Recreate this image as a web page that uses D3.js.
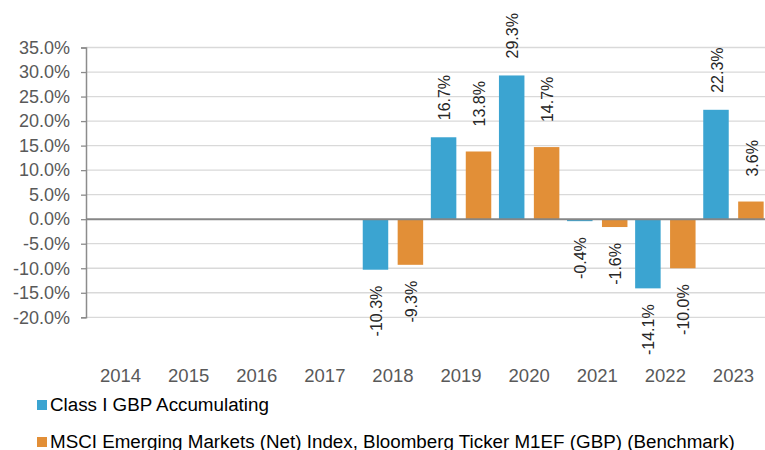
<!DOCTYPE html>
<html>
<head>
<meta charset="utf-8">
<script src="https://cdn.jsdelivr.net/npm/d3@7"></script>
<style>
  body { margin: 0; background: #fff; }
  svg { display: block; font-family: "Liberation Sans", Arial, sans-serif; }
</style>
</head>
<body>
<div id="chart"></div>
<script>
// Chart data
var years = ["2014", "2015", "2016", "2017", "2018", "2019", "2020", "2021", "2022", "2023"];
var fundValues = [null, null, null, null, -10.3, 16.7, 29.3, -0.4, -14.1, 22.3];
var benchValues = [null, null, null, null, -9.3, 13.8, 14.7, -1.6, -10.0, 3.6];
var yTicks = [-20, -15, -10, -5, 0, 5, 10, 15, 20, 25, 30, 35];
var seriesNames = ["Class I GBP Accumulating",
  "MSCI Emerging Markets (Net) Index, Bloomberg Ticker M1EF (GBP) (Benchmark)"];

var colors = ["#3ba4d1", "#e28f37"];
var labelGapAbove = [17, 25];
var labelGapBelow = 16;

var width = 765, height = 450;

var svg = d3.select("#chart")
  .append("svg")
    .attr("width", width)
    .attr("height", height);

// Scales
var x0 = d3.scaleBand()
    .domain(years)
    .range([86.5, 767.5])
    .padding(0);

var x1 = d3.scaleBand()
    .domain([0, 1])
    .range([0, x0.bandwidth()])
    .paddingInner(0.27)
    .paddingOuter(0.11);

var y = d3.scaleLinear()
    .domain([-20, 35])
    .range([317.3, 47.5]);

// Gridlines
svg.append("g")
  .selectAll("line")
  .data(yTicks.filter(function(d) { return d !== 0; }))
  .enter()
  .append("line")
    .attr("x1", 86)
    .attr("x2", width)
    .attr("y1", function(d) { return y(d); })
    .attr("y2", function(d) { return y(d); })
    .attr("stroke", "#d9d9d9")
    .attr("stroke-width", 1.3);

// Y axis
var yAxis = svg.append("g")
    .attr("transform", "translate(86,0)")
    .call(d3.axisLeft(y)
      .tickValues(yTicks)
      .tickSize(5)
      .tickPadding(11)
      .tickFormat(function(d) { return d.toFixed(1) + "%"; }));
yAxis.select(".domain").attr("stroke", "#8c8c8c").attr("stroke-width", 1.5);
yAxis.selectAll(".tick line").attr("stroke", "#8c8c8c").attr("stroke-width", 1.3);
yAxis.selectAll("text")
    .attr("fill", "#595959")
    .style("font-size", "18px")
    .style("font-family", "Liberation Sans, Arial, sans-serif");

// X axis labels
var xAxis = svg.append("g")
    .attr("transform", "translate(0," + y(-20) + ")")
    .call(d3.axisBottom(x0).tickSize(0).tickPadding(52));
xAxis.select(".domain").remove();
xAxis.selectAll("text")
    .attr("fill", "#595959")
    .style("font-size", "18.5px")
    .style("font-family", "Liberation Sans, Arial, sans-serif");

// Bars
var series = [fundValues, benchValues];
series.forEach(function(values, s) {
  var pts = years.map(function(yr, i) { return {year: yr, value: values[i]}; })
    .filter(function(d) { return d.value !== null; });

  svg.append("g")
    .selectAll("rect")
    .data(pts)
    .enter()
    .append("rect")
      .attr("x", function(d) { return x0(d.year) + x1(s); })
      .attr("y", function(d) { return y(Math.max(0, d.value)); })
      .attr("width", x1.bandwidth())
      .attr("height", function(d) { return Math.abs(y(d.value) - y(0)); })
      .attr("fill", colors[s]);

  // Data labels (rotated)
  svg.append("g")
    .selectAll("text")
    .data(pts)
    .enter()
    .append("text")
      .attr("transform", function(d) {
        var cx = x0(d.year) + x1(s) + x1.bandwidth() / 2 + 1;
        var ty = d.value >= 0 ? y(d.value) - labelGapAbove[s] : y(d.value) + labelGapBelow;
        return "translate(" + cx + "," + ty + ") rotate(-90)";
      })
      .attr("dy", "0.35em")
      .attr("text-anchor", function(d) { return d.value >= 0 ? "start" : "end"; })
      .attr("fill", "#262626")
      .style("font-size", "16px")
      .text(function(d) { return d.value.toFixed(1) + "%"; });
});

// Zero line
svg.append("line")
    .attr("x1", 86)
    .attr("x2", width)
    .attr("y1", y(0))
    .attr("y2", y(0))
    .attr("stroke", "#868686")
    .attr("stroke-width", 2);

// Legend
var legend = svg.append("g")
  .selectAll("g")
  .data(seriesNames)
  .enter()
  .append("g")
    .attr("transform", function(d, i) { return "translate(37," + (400 + i * 37) + ")"; });

legend.append("rect")
    .attr("width", 10)
    .attr("height", 10)
    .attr("fill", function(d, i) { return colors[i]; });

legend.append("text")
    .attr("x", 13)
    .attr("y", 10.5)
    .attr("fill", "#000")
    .style("font-size", "18.8px")
    .text(function(d) { return d; });
</script>
</body>
</html>
